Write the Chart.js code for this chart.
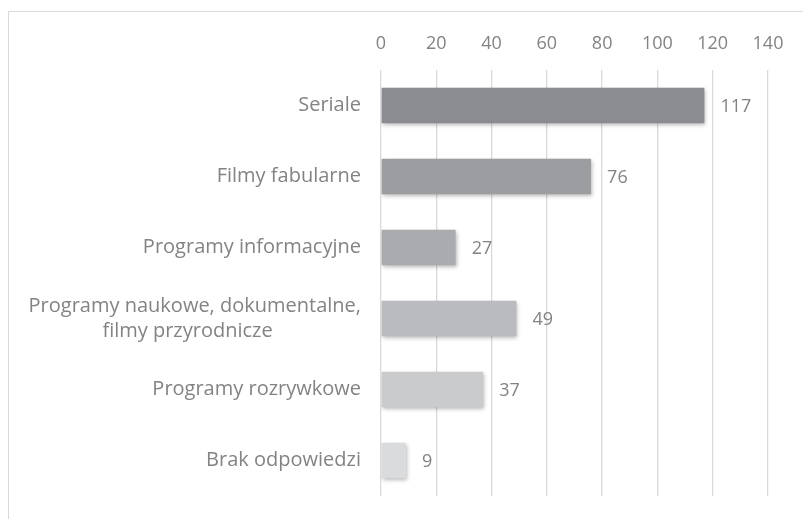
<!DOCTYPE html>
<html>
<head>
<meta charset="utf-8">
<script src="https://cdn.jsdelivr.net/npm/chart.js@4"></script>
<style>
    body { margin: 0; background: #fff; overflow: hidden; }
    #ramka {
        position: absolute; left: 8px; top: 11px; width: 795px; height: 508px;
        border-top: 1px solid #d9d9d9; border-left: 1px solid #d9d9d9;
    }
    #wykres { position: absolute; left: 0; top: 0; }
</style>
</head>
<body>
<div id="ramka"></div>
<canvas id="wykres" width="803" height="519"></canvas>
<script>
// dane z wykresu
const kategorie = [
    "Seriale",
    "Filmy fabularne",
    "Programy informacyjne",
    ["Programy naukowe, dokumentalne,", "filmy przyrodnicze" + "\u00a0".repeat(17)],
    "Programy rozrywkowe",
    "Brak odpowiedzi"
];
const wartosci = [117, 76, 27, 49, 37, 9];
const kolory = ["#8b8c90", "#9c9da0", "#aaabae", "#babbbe", "#cacbcd", "#dadbdc"];
const osX = { min: 0, max: 140, krok: 20 };

const szary = "#838383";
const rodzina = "'Open Sans', sans-serif";
const czcionka = { family: rodzina, size: 18 };

// cien pod slupkami
const cien = {
    id: "cien",
    beforeDatasetDraw(chart) {
        const ctx = chart.ctx;
        ctx.save();
        ctx.shadowColor = "rgba(0,0,0,0.28)";
        ctx.shadowBlur = 4;
        ctx.shadowOffsetX = 1;
        ctx.shadowOffsetY = 2;
    },
    afterDatasetDraw(chart) {
        chart.ctx.restore();
    }
};

// etykiety wartosci przy slupkach
const etykiety = {
    id: "etykiety",
    afterDatasetsDraw(chart) {
        const ctx = chart.ctx;
        const meta = chart.getDatasetMeta(0);
        ctx.save();
        ctx.font = czcionka.size + "px " + rodzina;
        ctx.fillStyle = szary;
        ctx.textAlign = "left";
        ctx.textBaseline = "middle";
        meta.data.forEach((bar, i) => {
            ctx.fillText(String(wartosci[i]), bar.x + 16, bar.y + 1);
        });
        ctx.restore();
    }
};

new Chart(document.getElementById("wykres"), {
    type: "bar",
    data: {
        labels: kategorie,
        datasets: [{
            data: wartosci,
            backgroundColor: kolory,
            borderWidth: 0,
            barPercentage: 0.5,
            categoryPercentage: 1
        }]
    },
    options: {
        indexAxis: "y",
        responsive: false,
        animation: false,
        layout: { padding: { top: 0, right: 35, bottom: 23, left: 0 } },
        plugins: {
            legend: { display: false },
            tooltip: { enabled: false }
        },
        scales: {
            x: {
                position: "top",
                min: osX.min,
                max: osX.max,
                ticks: { stepSize: osX.krok, color: szary, font: czcionka, padding: 15 },
                grid: { color: "#d9d9d9", lineWidth: 1.3, drawTicks: false },
                border: { display: false },
                afterFit(scale) { scale.height = 70; }
            },
            y: {
                ticks: { color: szary, font: { family: rodzina, size: 20, lineHeight: 1.25 }, padding: 20 },
                grid: { display: false, drawTicks: false },
                border: { display: false },
                afterFit(scale) {
                    scale.width = 381;
                    // bez dodatkowego marginesu od etykiet
                    scale.paddingTop = 0;
                    scale.paddingBottom = 0;
                }
            }
        }
    },
    plugins: [cien, etykiety]
});
</script>
</body>
</html>
